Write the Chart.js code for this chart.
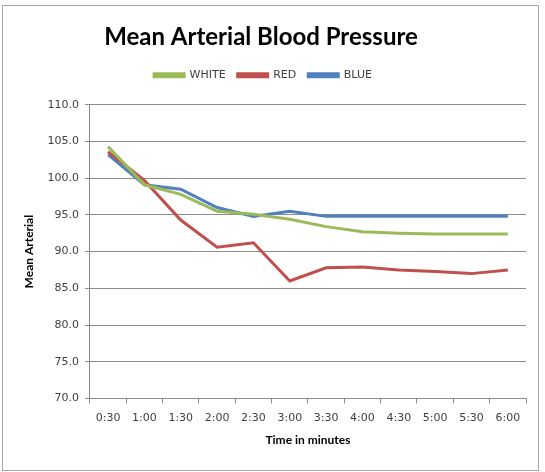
<!DOCTYPE html>
<html lang="en">

<head>
    <meta charset="UTF-8">
    <title>Mean Arterial Blood Pressure</title>
    <script src="https://cdn.jsdelivr.net/npm/chart.js"></script>
    <style>
        body { margin: 0; background: #fff; }
        .moldura {
            position: absolute;
            left: 2px;
            top: 5px;
            width: 535px;
            height: 464px;
            border: 1px solid #a6a6a6;
        }
    </style>
</head>

<body>
    <div class="moldura">
        <canvas id="grafico" width="535" height="464"></canvas>
    </div>

<script>

    // dados
    var tempos = ['0:30', '1:00', '1:30', '2:00', '2:30', '3:00', '3:30', '4:00', '4:30', '5:00', '5:30', '6:00'];
    var valoresWhite = [104.3, 99.1, 97.8, 95.5, 95.1, 94.4, 93.4, 92.7, 92.5, 92.4, 92.4, 92.4];
    var valoresRed = [103.6, 99.7, 94.3, 90.6, 91.2, 86.0, 87.8, 87.9, 87.5, 87.3, 87.0, 87.5];
    var valoresBlue = [103.2, 99.1, 98.5, 96.0, 94.8, 95.5, 94.8, 94.8, 94.8, 94.8, 94.8, 94.8];

    var corTexto = '#404040';
    var corGrade = '#8c8c8c';

    // espaço extra abaixo da legenda e título/legenda um pouco para a esquerda
    var ajusteCabecalho = {
        id: 'ajusteCabecalho',
        beforeInit(chart) {
            var fitOriginal = chart.legend.fit;
            chart.legend.fit = function () {
                fitOriginal.bind(chart.legend)();
                this.height += 14;
            };
        },
        afterLayout(chart) {
            var desvio = 13;
            chart.titleBlock.left -= desvio;
            chart.titleBlock.right -= desvio;
            chart.legend.left -= desvio - 2;
            chart.legend.right -= desvio - 2;
        }
    };

    function serie(nome, valores, cor) {
        return {
            label: nome,
            data: valores,
            borderColor: cor,
            backgroundColor: cor,
            borderWidth: 3,
            pointRadius: 0,
            tension: 0
        };
    }

    var ctx = document.getElementById('grafico');

    new Chart(ctx, {
        type: 'line',
        data: {
            labels: tempos,
            datasets: [
                serie('WHITE', valoresWhite, '#9bbb59'),
                serie('RED', valoresRed, '#c0504d'),
                serie('BLUE', valoresBlue, '#4f81bd')
            ]
        },
        plugins: [ajusteCabecalho],
        options: {
            responsive: false,
            animation: false,
            layout: {
                padding: { left: 19, right: 12, top: 0, bottom: 23 }
            },
            plugins: {
                title: {
                    display: true,
                    text: 'Mean Arterial Blood Pressure',
                    color: '#000',
                    font: { family: 'Lato', size: 24, weight: 'bold' },
                    padding: { top: 17, bottom: 6 }
                },
                legend: {
                    labels: {
                        boxWidth: 30,
                        boxHeight: 3,
                        color: corTexto,
                        font: { family: 'DejaVu Sans', size: 11 },
                        padding: 12
                    }
                },
                tooltip: { enabled: false }
            },
            scales: {
                x: {
                    offset: true,
                    grid: {
                        offset: true,
                        drawOnChartArea: false,
                        drawTicks: true,
                        tickLength: 5,
                        color: corGrade
                    },
                    border: { color: corGrade },
                    ticks: {
                        color: corTexto,
                        font: { family: 'DejaVu Sans', size: 11 },
                        maxRotation: 0,
                        autoSkip: false,
                        padding: 8
                    },
                    title: {
                        display: true,
                        text: 'Time in minutes',
                        color: '#000',
                        font: { family: 'Lato', size: 12, weight: 'bold' },
                        padding: { top: 0, bottom: 0 }
                    }
                },
                y: {
                    min: 70,
                    max: 110,
                    grid: {
                        color: corGrade,
                        tickLength: 5
                    },
                    border: { color: corGrade },
                    ticks: {
                        stepSize: 5,
                        color: corTexto,
                        font: { family: 'DejaVu Sans', size: 11 },
                        padding: 6,
                        callback: function (valor) { return valor.toFixed(1); }
                    },
                    title: {
                        display: true,
                        text: 'Mean Arterial',
                        color: '#000',
                        font: { family: 'Lato', size: 12, weight: 'bold' },
                        padding: { top: 0, bottom: 5 }
                    }
                }
            }
        }
    });

</script>
</body>

</html>
